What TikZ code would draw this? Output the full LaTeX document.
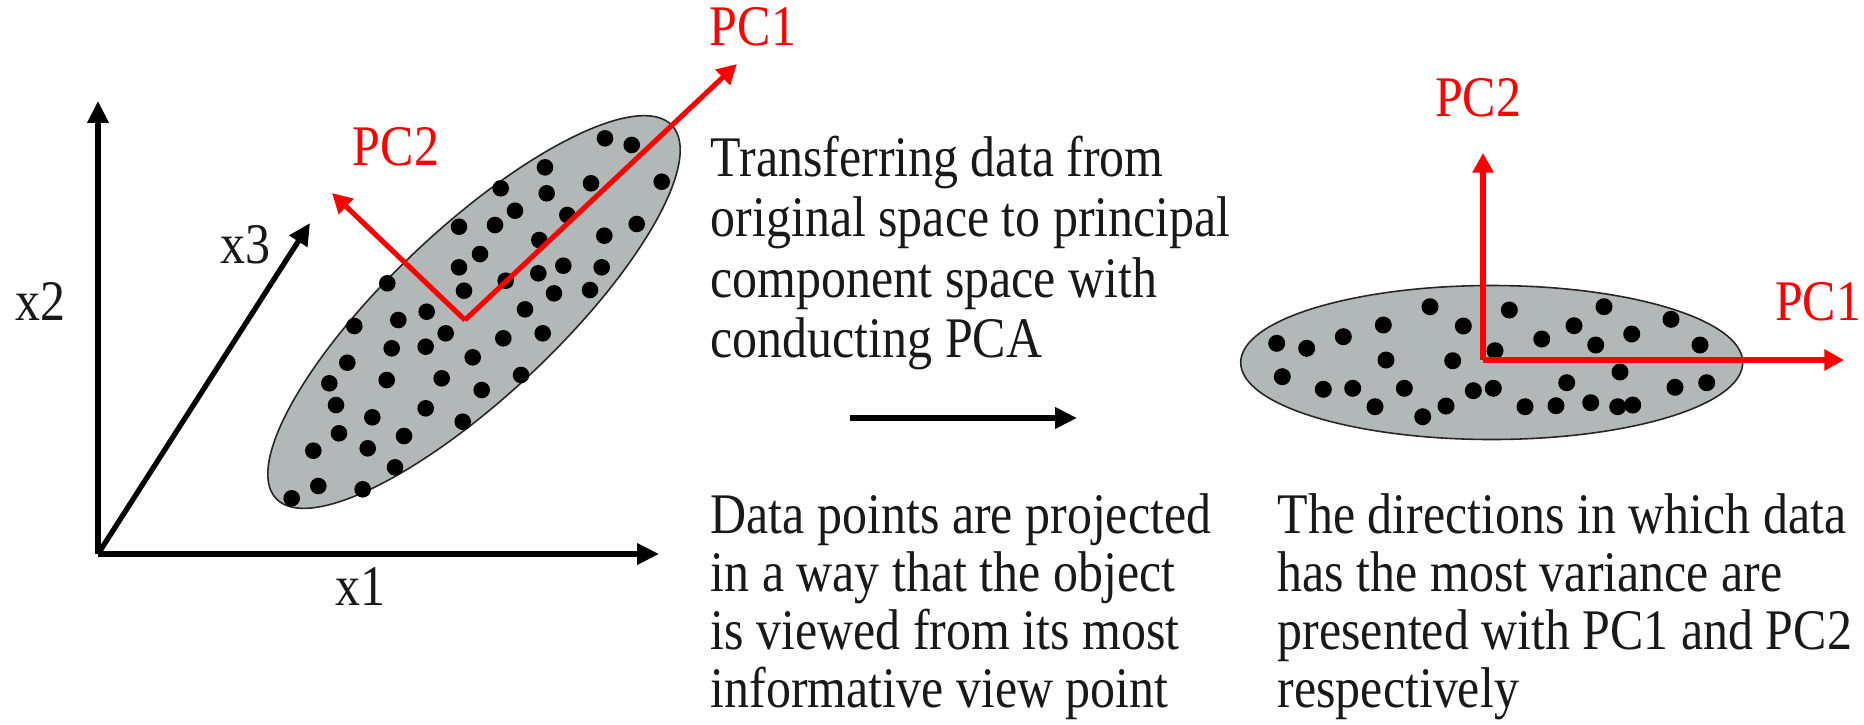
\documentclass[tikz,border=0pt]{standalone}
\usepackage{graphicx}
\usepackage{fontspec}
\setmainfont{Liberation Serif}
\usetikzlibrary{arrows.meta}
\definecolor{cloud}{RGB}{178,183,183}
\definecolor{pcred}{RGB}{255,0,0}
\definecolor{ink}{RGB}{25,25,25}
% glyphs of this figure are set slightly taller than their natural shape
\newcommand\tallword[1]{\scalebox{1}[1.15]{#1}}
\begin{document}
\begin{tikzpicture}[x=0.01cm, y=-0.01cm,
  axis/.style={line width=1.5pt, -{Triangle[length=6.2pt,width=5.8pt]}},
  pcaxis/.style={draw=pcred, line width=1.45pt, -{Triangle[length=5.6pt,width=5.8pt]}},
  lbl/.style={font=\fontsize{14.2pt}{17pt}\selectfont, text=ink, inner sep=0pt, anchor=base},
  pclbl/.style={lbl, text=pcred},
  txt/.style={lbl, anchor=base west},
  cloudshape/.style={fill=cloud, draw=black!85, line width=0.45pt},
  dot/.style={fill=black}]
\useasboundingbox (0,0) rectangle (1864,724);

% ---------- original space ----------
\coordinate (O)  at (98,554);
\coordinate (X1) at (659,554);
\coordinate (X2) at (98,101);
\coordinate (X3) at (310,223);

\draw[cloudshape, rotate around={43.3:(474,312)}] (474,312) ellipse [x radius=272, y radius=84];
\foreach \x/\y in {605/138.3, 631.7/145, 545/167.3, 500.7/188.3, 546.7/193.3, 591/183.3,
  661.7/181.7, 515/210.7, 567.3/215, 459/226.7, 495/225, 636.7/224, 539.3/240,
  604.3/235.7, 480/254, 459/267.3, 538.3/273.3, 563.3/265.7, 601.7/267.3,
  505.7/280.7, 464/290.7, 554/293.3, 590/290, 387.3/283.3, 426.7/311.7, 525/309.3,
  354.3/326, 398.3/320, 445.7/333.3, 503.3/338.3, 542.7/333.3, 391.7/348.3,
  425.7/346.7, 347.3/362.7, 472.7/357.3, 521/375, 329.3/383.3, 386.7/380,
  441.7/378.3, 481.7/390, 336/405, 425.7/408.3, 372.3/417.3, 462.7/421.7,
  339/433.3, 404/436, 313.3/450.7, 367.7/448.3, 395/467.3, 318.3/486,
  362.7/489.3, 291.7/498.3}
  \fill[dot] (\x,\y) circle [radius=8.3];

\draw[axis] (O) -- (X1);
\draw[axis] (O) -- (X2);
\draw[axis] (O) -- (X3);
\node[lbl] (lx1) at (360,605) {\tallword{x1}};
\node[lbl] (lx2) at (40,320) {\tallword{x2}};
\node[lbl] (lx3) at (245,263) {\tallword{x3}};

\coordinate (V)   at (465,320);
\coordinate (P1a) at (737,64);
\coordinate (P2a) at (332,193);
\draw[pcaxis] (V) -- (P1a);
\draw[pcaxis] (V) -- (P2a);
\node[pclbl] (lpc1a) at (753,45) {\tallword{PC1}};
\node[pclbl] (lpc2a) at (396,165) {\tallword{PC2}};

% ---------- transfer ----------
\coordinate (T0) at (850,418);
\coordinate (T1) at (1077,418);
\draw[line width=1.45pt, -{Triangle[length=6.2pt,width=5.8pt]}] (T0) -- (T1);

\foreach \t [count=\i] in {Transferring data from, original space to principal,
  component space with, conducting PCA}
  \node[txt] (note\i) at (710,{176+(\i-1)*60.5}) {\tallword{\t}};

\foreach \t [count=\i] in {Data points are projected, in a way that the object,
  is viewed from its most, informative view point}
  \node[txt] (view\i) at (710,{533+(\i-1)*58}) {\tallword{\t}};

\foreach \t [count=\i] in {The directions in which data, has the most variance are,
  presented with PC1 and PC2, respectively}
  \node[txt] (dir\i) at (1277,{533+(\i-1)*58}) {\tallword{\t}};

% ---------- principal component space ----------
\draw[cloudshape] (1491.7,362.5) ellipse [x radius=251, y radius=77];
\foreach \x/\y in {1276.7/343.3, 1306.7/348.3, 1343.3/336.7, 1383.3/325, 1430/306.7,
  1463.3/326, 1509.3/310, 1495/350.7, 1541.7/339, 1574/325.7, 1604/306.7,
  1631.7/334, 1671/319.3, 1595.7/345, 1700/345, 1386/360, 1452.7/360.7,
  1282.3/376.7, 1323.3/389.3, 1352.7/388.3, 1375/406.7, 1404.3/388.3,
  1422.7/416.7, 1446/406, 1473.3/390.7, 1493.3/388.3, 1525/406.7, 1556/405.7,
  1566.7/382.7, 1590.7/402.7, 1617.7/406.7, 1632.7/405, 1620/372, 1675/387.3,
  1706.7/382.7}
  \fill[dot] (\x,\y) circle [radius=8.5];

\coordinate (W)   at (1483,360);
\coordinate (P1b) at (1844,360);
\coordinate (P2b) at (1483,153);
\draw[pcaxis] (W) -- (P1b);
\draw[pcaxis] (W) -- (P2b);
\node[pclbl] (lpc1b) at (1818,320) {\tallword{PC1}};
\node[pclbl] (lpc2b) at (1478,116) {\tallword{PC2}};
\end{tikzpicture}
\end{document}
